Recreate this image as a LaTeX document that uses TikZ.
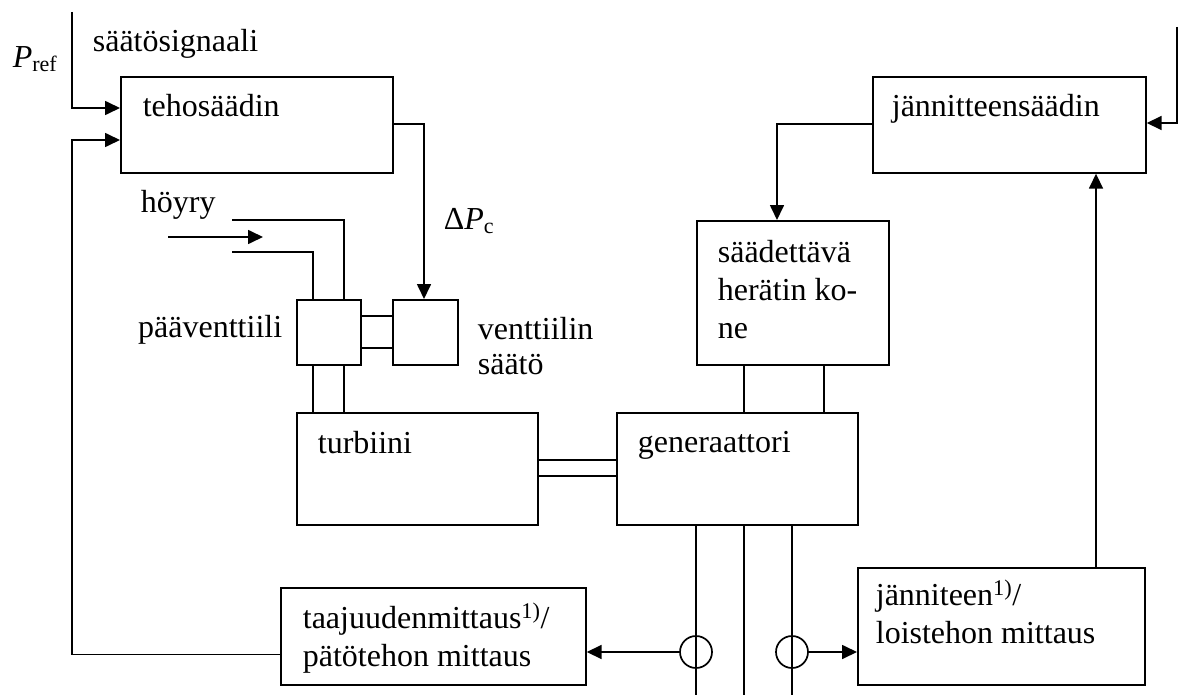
\documentclass[tikz,border=0pt]{standalone}
\usepackage{fontspec}
\setmainfont{Liberation Serif}
\usetikzlibrary{arrows.meta,calc}
\begin{document}
\begin{tikzpicture}[x=1pt,y=-1pt,
  line width=1.7pt,
  box/.style={draw,rectangle,inner sep=0pt,anchor=north west},
  txt/.style={inner sep=0pt,anchor=base west,font=\fontsize{32}{38}\selectfont},
  arr/.style={-{Triangle[length=15pt,width=14pt]}},
  meas/.style={draw,circle,minimum size=32pt,inner sep=0pt}]
\useasboundingbox (0,0) rectangle (1185,695);
% boxes
\node[box,minimum width=272pt,minimum height=96pt] (teho) at (120,76) {};
\node[box,minimum width=273pt,minimum height=96pt] (jsaad) at (872,76) {};
\node[box,minimum width=64pt,minimum height=65pt] (pv) at (296,299) {};
\node[box,minimum width=65pt,minimum height=65pt] (valve) at (392,299) {};
\node[box,minimum width=192pt,minimum height=144pt] (exc) at (696,220) {};
\node[box,minimum width=241pt,minimum height=112pt] (turb) at (296,412) {};
\node[box,minimum width=241pt,minimum height=112pt] (gen) at (616,412) {};
\node[box,minimum width=305pt,minimum height=97pt] (taaj) at (280,587) {};
\node[box,minimum width=287pt,minimum height=117pt] (jan) at (857,567) {};
\node[meas] (c1) at (696,652) {};
\node[meas] (c2) at (792,652) {};
% texts
\node[txt] (tPref) at (12,68) {\textit{P}\raisebox{-4pt}{\fontsize{22}{22}\selectfont ref}};
\node[txt] (tsig) at (92,52) {säätösignaali};
\node[txt] (tteho) at (142,117) {tehosäädin};
\node[txt] (tdp) at (443,229) {Δ\textit{P}\raisebox{-4pt}{\fontsize{22}{22}\selectfont c}};
\node[txt] (thoy) at (140,212) {höyry};
\node[txt,anchor=base east] (tpv) at (283,337) {pääventtiili};
\node[txt] (tv1) at (477,339) {venttiilin};
\node[txt] (tv2) at (477,374) {säätö};
\node[txt] (tturb) at (317,453) {turbiini};
\node[txt] (tgen) at (637,452) {generaattori};
\node[txt] (tjs) at (891,117) {jännitteensäädin};
\node[txt] (te1) at (717,262) {säädettävä};
\node[txt] (te2) at (717,300) {herätin ko-};
\node[txt] (te3) at (717,338) {ne};
\node[txt] (tt1) at (302,628) {taajuudenmittaus\textsuperscript{1)}/};
\node[txt] (tt2) at (302,666) {pätötehon mittaus};
\node[txt] (tj1) at (875,605) {jänniteen\textsuperscript{1)}/};
\node[txt] (tj2) at (875,643) {loistehon mittaus};
% free ends
\coordinate (pin) at (72,12);
\coordinate (vin) at (1177,27);
\coordinate (fb) at (72,140);
\coordinate (s0) at (168,237);
\coordinate (s1) at (263,237);
\coordinate (pu) at (232,220);
\coordinate (pl) at (232,252);
\coordinate (b1) at (696,695);
\coordinate (b2) at (744,695);
\coordinate (b3) at (792,695);
% connectors
\draw[arr] (pin) |- ([yshift=-32pt]teho.north west);
\draw[arr] ([yshift=-18pt]taaj.west) -| (fb) -- ([yshift=-64pt]teho.north west);
\draw[arr] ([yshift=-48pt]teho.north east) -| ([xshift=32pt]valve.north west);
\draw[arr] (s0) -- (s1);
\draw (pu) -| ([xshift=48pt]pv.north west);
\draw (pl) -| ([xshift=17pt]pv.north west);
\draw ([yshift=-17pt]pv.north east) -- ([yshift=-17pt]valve.north west);
\draw ([yshift=-49pt]pv.north east) -- ([yshift=-49pt]valve.north west);
\draw ([xshift=17pt]pv.south west) -- ([xshift=17pt]turb.north west);
\draw ([xshift=48pt]pv.south west) -- ([xshift=48pt]turb.north west);
\draw ([yshift=-48pt]turb.north east) -- ([yshift=-48pt]gen.north west);
\draw ([yshift=-64pt]turb.north east) -- ([yshift=-64pt]gen.north west);
\draw[arr] ([yshift=-48pt]jsaad.north west) -| ([xshift=81pt]exc.north west);
\draw ([xshift=48pt]exc.south west) -- ([xshift=128pt]gen.north west);
\draw ([xshift=128pt]exc.south west) -- ([xshift=208pt]gen.north west);
\draw ([xshift=80pt]gen.south west) -- (b1);
\draw ([xshift=128pt]gen.south west) -- (b2);
\draw ([xshift=176pt]gen.south west) -- (b3);
\draw[arr] (c1.west) -- (c1.west -| taaj.east);
\draw[arr] (c2.east) -- (c2.east -| jan.west);
\draw[arr] ([xshift=239pt]jan.north west) -- ([xshift=224pt]jsaad.south west);
\draw[arr] (vin) |- ([yshift=-47pt]jsaad.north east);
\end{tikzpicture}
\end{document}
